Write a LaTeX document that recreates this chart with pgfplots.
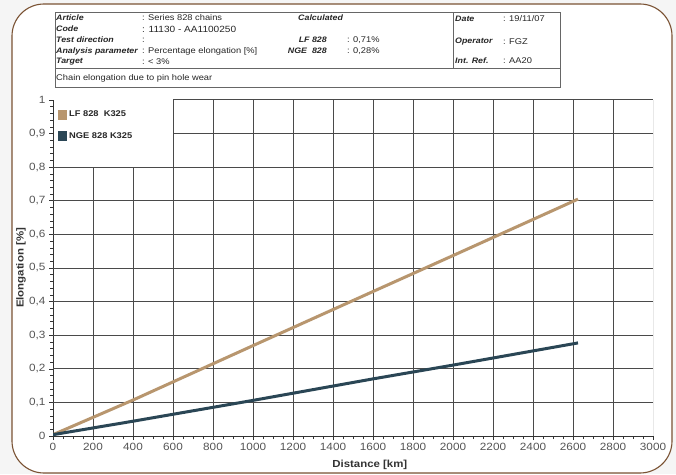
\documentclass[border=0pt]{standalone}
\usepackage{fontspec}
\setmainfont{Liberation Sans}[FakeStretch=1.12]
\usepackage{pgfplots}
\pgfplotsset{compat=1.18}
\definecolor{lfc}{HTML}{B8966E}
\definecolor{ngec}{HTML}{2A4655}
\definecolor{framec}{HTML}{7A5233}
\definecolor{gridc}{HTML}{4A4A4A}
\definecolor{tickc}{HTML}{555555}
\definecolor{hdrline}{HTML}{666666}
\newcommand\hb[1]{{\fontsize{7.9}{9}\selectfont\bfseries\itshape #1}}
\newcommand\hr[1]{{\fontsize{8.3}{9}\selectfont #1}}
\begin{document}
\begin{tikzpicture}[x=1pt,y=1pt]
\path[use as bounding box, fill=black!4] (0,0) rectangle (676,474);
\draw[framec, fill=white, line width=1.1pt, rounded corners=32pt] (12,1) rectangle (672,470);
% header table
\draw[hdrline, line width=0.7pt] (55,387) rectangle (560,462);
\draw[hdrline, line width=0.7pt] (55,406) -- (560,406);
\draw[hdrline, line width=0.7pt] (453,406) -- (453,462);
\begin{scope}[every node/.style={anchor=west, inner sep=0pt, text=black!85}]
\node at (56,456) {\hb{Article}};
\node at (56,445) {\hb{Code}};
\node at (56,434) {\hb{Test direction}};
\node at (56,423) {\hb{Analysis parameter}};
\node at (56,412.5) {\hb{Target}};
\node at (142,456) {\hr{: Series 828 chains}};
\node at (142,445) {{\fontsize{9}{10}\selectfont : 11130 - AA1100250}};
\node at (142,434) {\hr{:}};
\node at (142,423) {\hr{: Percentage elongation [\%]}};
\node at (142,412.5) {\hr{: < 3\%}};
\node at (298,456) {\hb{Calculated}};
\node[anchor=east] at (327,434) {\hb{LF 828}};
\node[anchor=east] at (327,423) {\hb{NGE\ \ 828}};
\node at (347,434) {\hr{: 0,71\%}};
\node at (347,423) {\hr{: 0,28\%}};
\node at (455,455) {\hb{Date}};
\node at (455,432) {\hb{Operator}};
\node at (455,413) {\hb{Int. Ref.}};
\node at (503,455) {\hr{: 19/11/07}};
\node at (503,432) {\hr{: FGZ}};
\node at (503,413) {\hr{: AA20}};
\node at (56,396) {\hr{Chain elongation due to pin hole wear}};
\end{scope}
\begin{axis}[
  at={(53pt,38pt)}, anchor=south west,
  scale only axis, width=600pt, height=336pt,
  xmin=0, xmax=3000, ymin=0, ymax=1,
  axis x line=bottom, axis y line=left,
  axis line style={-, black!80, line width=0.8pt},
  xtick={0,200,400,600,800,1000,1200,1400,1600,1800,2000,2200,2400,2600,2800,3000},
  ytick={0,0.1,0.2,0.3,0.4,0.5,0.6,0.7,0.8,0.9,1},
  minor x tick num=3, minor y tick num=4,
  tick align=outside, major tick length=4pt, minor tick length=3pt,
  tick style={black!80, line width=0.6pt},
  /pgf/number format/assume math mode=true,
  /pgf/number format/use comma,
  /pgf/number format/1000 sep={},
  ticklabel style={font=\fontsize{10.5}{12}\selectfont, text=tickc},
  xlabel={Distance [km]}, ylabel={Elongation [\%]},
  label style={font=\fontsize{10.2}{12}\selectfont\bfseries, text=black!80},
  xlabel style={at={(axis description cs:0.528,-0.0863)}, anchor=center},
  ylabel style={at={(axis description cs:-0.0533,0.5)}, anchor=center},
  legend style={at={(axis description cs:0,1)}, anchor=north west, draw=none, fill=none,
    xshift=5pt, yshift=-9pt, font=\fontsize{8.3}{10}\selectfont\bfseries, row sep=10pt,
    inner sep=0pt, text=black!85},
  legend cell align=left,
  legend image code/.code={\fill[#1,draw=none] (0pt,-5pt) rectangle (9pt,5pt);},
]
% grid
\pgfplotsinvokeforeach{200,400}{\draw[gridc, line width=1pt] (axis cs:#1,0) -- (axis cs:#1,0.8);}
\pgfplotsinvokeforeach{600,800,1000,1200,1400,1600,1800,2000,2200,2400,2600,2800,3000}{\draw[gridc, line width=1pt] (axis cs:#1,0) -- (axis cs:#1,1);}
\pgfplotsinvokeforeach{0.1,0.2,0.3,0.4,0.5,0.6,0.7,0.8}{\draw[gridc, line width=1pt] (axis cs:0,#1) -- (axis cs:3000,#1);}
\pgfplotsinvokeforeach{0.9,1}{\draw[gridc, line width=1pt] (axis cs:600,#1) -- (axis cs:3000,#1);}
\addplot[lfc, line width=3pt] coordinates {(0,0.004) (400,0.107) (1000,0.269) (1600,0.430) (2000,0.537) (2625,0.705)};
\addlegendentry{LF 828\ \ K325}
\addplot[ngec, line width=3pt] coordinates {(0,0.004) (400,0.044) (1000,0.106) (1600,0.170) (2000,0.211) (2625,0.277)};
\addlegendentry{NGE 828 K325}
\end{axis}
\end{tikzpicture}
\end{document}
